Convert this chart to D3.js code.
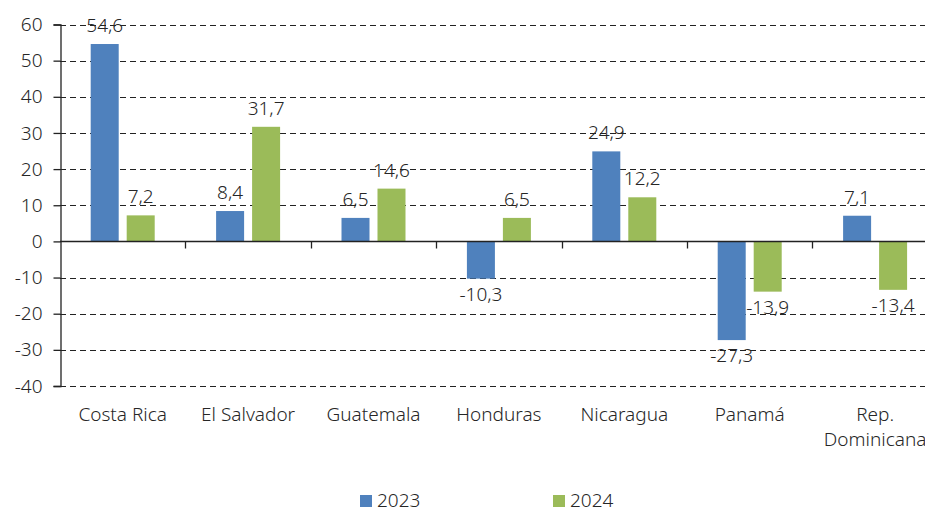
<!DOCTYPE html>
<html>
<head>
<meta charset="utf-8">
<script src="https://cdn.jsdelivr.net/npm/d3@7"></script>
<style>
  body { margin: 0; background: #fff; }
  text { font-family: "Noto Sans", "Open Sans", sans-serif; font-weight: 300; fill: #262626; }
</style>
</head>
<body>
<div id="chart"></div>
<script>
// data
const countries = ["Costa Rica", "El Salvador", "Guatemala", "Honduras", "Nicaragua", "Panamá", "Rep. Dominicana"];
const years = ["2023", "2024"];
const values2023 = [54.6, 8.4, 6.5, -10.3, 24.9, -27.3, 7.1];
const values2024 = [7.2, 31.7, 14.6, 6.5, 12.2, -13.9, -13.4];
const yTicks = [-40, -30, -20, -10, 0, 10, 20, 30, 40, 50, 60];

const colors = {"2023": "#4f81bd", "2024": "#9bbb59"};

const width = 925, height = 513;
const plotLeft = 60, plotTop = 24.5, plotBottom = 386;
const catWidth = 125.4;

const svg = d3.select("#chart")
  .append("svg")
    .attr("width", width)
    .attr("height", height);

// scales
const x0 = d3.scaleBand()
  .domain(countries)
  .range([plotLeft, plotLeft + catWidth * countries.length])
  .paddingInner(0)
  .paddingOuter(0);

const x1 = d3.scaleBand()
  .domain(years)
  .range([0, x0.bandwidth()])
  .paddingInner(0.222)
  .paddingOuter(0.853);

const y = d3.scaleLinear()
  .domain([-40, 60])
  .range([plotBottom, plotTop]);

// dashed gridlines
svg.append("g")
  .selectAll("line")
  .data(yTicks.filter(d => d !== 0))
  .enter()
  .append("line")
    .attr("x1", plotLeft)
    .attr("x2", width)
    .attr("y1", d => Math.round(y(d)) + 0.5)
    .attr("y2", d => Math.round(y(d)) + 0.5)
    .attr("stroke", "#222")
    .attr("stroke-width", 1.2)
    .attr("stroke-dasharray", "6,4");

// y axis
const yAxis = svg.append("g")
  .attr("transform", "translate(" + (plotLeft + 0.5) + ",0)")
  .call(d3.axisLeft(y).tickValues(yTicks).tickSize(7).tickPadding(11).tickFormat(d3.format("d")));
yAxis.selectAll("line").attr("stroke", "#222").attr("stroke-width", 1.3);
yAxis.select(".domain").attr("stroke", "#222").attr("stroke-width", 1.3);
yAxis.selectAll("text")
  .style("font-size", "19px")
  .attr("fill", "#262626")
  .text(d => d < 0 ? "-" + Math.abs(d) : d);

// bars
const rows = countries.map((c, i) => ({country: c, vals: [
  {year: "2023", value: values2023[i]},
  {year: "2024", value: values2024[i]}
]}));

const groups = svg.append("g")
  .selectAll("g")
  .data(rows)
  .enter()
  .append("g")
    .attr("transform", d => "translate(" + x0(d.country) + ",0)");

groups.selectAll("rect")
  .data(d => d.vals)
  .enter()
  .append("rect")
    .attr("x", d => x1(d.year))
    .attr("width", x1.bandwidth())
    .attr("y", d => y(Math.max(0, d.value)))
    .attr("height", d => Math.abs(y(d.value) - y(0)))
    .attr("fill", d => colors[d.year]);

// value labels
const fmt = v => v.toFixed(1).replace(".", ",");
groups.selectAll("text.val")
  .data(d => d.vals)
  .enter()
  .append("text")
    .attr("class", "val")
    .attr("x", d => x1(d.year) + x1.bandwidth() / 2)
    .attr("y", d => d.value >= 0 ? y(d.value) - 12 : y(d.value) + 22)
    .attr("text-anchor", "middle")
    .style("font-size", "19px")
    .text(d => fmt(d.value));

// zero line with category ticks
const y0 = Math.round(y(0)) + 0.5;
svg.append("line")
  .attr("x1", plotLeft)
  .attr("x2", width)
  .attr("y1", y0)
  .attr("y2", y0)
  .attr("stroke", "#222")
  .attr("stroke-width", 1.5);

svg.append("g")
  .selectAll("line")
  .data(countries.slice(1))
  .enter()
  .append("line")
    .attr("x1", d => Math.round(x0(d)) + 0.5)
    .attr("x2", d => Math.round(x0(d)) + 0.5)
    .attr("y1", y0)
    .attr("y2", y0 + 7)
    .attr("stroke", "#222")
    .attr("stroke-width", 1.3);

// category labels (wrap "Rep. Dominicana")
svg.append("g")
  .selectAll("text")
  .data(countries)
  .enter()
  .append("text")
    .attr("x", d => x0(d) + x0.bandwidth() / 2)
    .attr("y", 421)
    .attr("text-anchor", "middle")
    .style("font-size", "19px")
    .each(function(d) {
      const parts = d === "Rep. Dominicana" ? ["Rep.", "Dominicana"] : [d];
      d3.select(this).selectAll("tspan")
        .data(parts)
        .enter()
        .append("tspan")
          .attr("x", x0(d) + x0.bandwidth() / 2)
          .attr("dy", (p, i) => i === 0 ? 0 : 25)
          .text(p => p);
    });

// legend
const legendX = [360, 553];
const legend = svg.append("g")
  .selectAll("g")
  .data(years)
  .enter()
  .append("g")
    .attr("transform", (d, i) => "translate(" + legendX[i] + ",495)");
legend.append("rect")
  .attr("width", 12)
  .attr("height", 12)
  .attr("fill", d => colors[d]);
legend.append("text")
  .attr("x", 17)
  .attr("y", 12)
  .style("font-size", "19px")
  .text(d => d);
</script>
</body>
</html>
